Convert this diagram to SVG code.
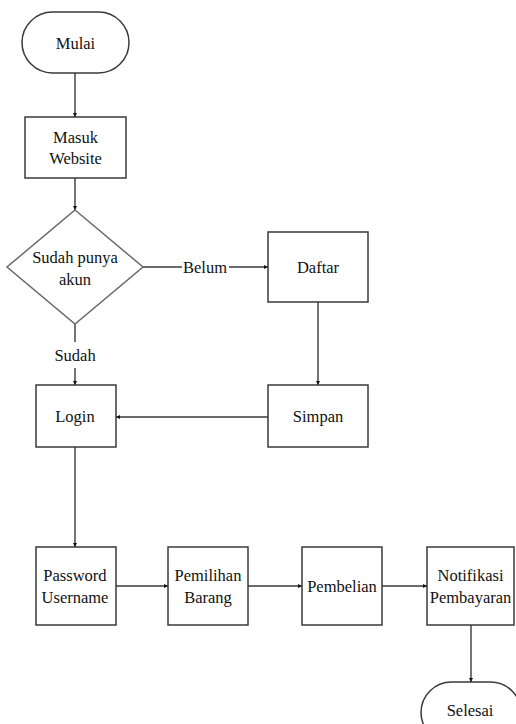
<svg xmlns="http://www.w3.org/2000/svg" width="516" height="724" viewBox="0 0 516 724">
  <style>
    .shape { fill: #ffffff; stroke: #3a3a3a; stroke-width: 1.5; }
    .dec { fill: #ffffff; stroke: #6a6a6a; stroke-width: 1.5; }
    .lbl { font-size: 16.5px; fill: #111111; text-anchor: middle; dominant-baseline: central; }
    .edge { fill: none; stroke: #3a3a3a; stroke-width: 1.4; marker-end: url(#head); }
    .plain { fill: none; stroke: #3a3a3a; stroke-width: 1.4; }
  </style>
  <defs>
    <marker id="head" viewBox="0 0 6 6" refX="6" refY="3" markerWidth="4" markerHeight="4" markerUnits="userSpaceOnUse" orient="auto">
      <path d="M0,0 L6,3 L0,6 Z" fill="#111111"/>
    </marker>
  </defs>
  <rect width="516" height="724" fill="#ffffff"/>

  <g font-family="'Liberation Serif', 'Noto Serif', FreeSerif, 'Nimbus Roman', 'DejaVu Serif', Times, serif">
  <g id="connectors">
    <line class="edge" x1="75" y1="73" x2="75" y2="117"/>
    <line class="edge" x1="75" y1="178" x2="75" y2="210"/>
    <line class="plain" x1="143" y1="267" x2="182" y2="267"/>
    <line class="edge" x1="229" y1="267" x2="268" y2="267"/>
    <line class="plain" x1="75" y1="324" x2="75" y2="342"/>
    <line class="edge" x1="75" y1="368" x2="75" y2="385"/>
    <line class="edge" x1="318" y1="302" x2="318" y2="385"/>
    <line class="edge" x1="268" y1="417" x2="116" y2="417"/>
    <line class="edge" x1="75" y1="447" x2="75" y2="547"/>
    <line class="edge" x1="116" y1="586" x2="168" y2="586"/>
    <line class="edge" x1="248" y1="586" x2="302" y2="586"/>
    <line class="edge" x1="382" y1="586" x2="427" y2="586"/>
    <line class="edge" x1="471" y1="625" x2="471" y2="682"/>
    <text class="lbl" x="205" y="267">Belum</text>
    <text class="lbl" x="75" y="355">Sudah</text>
  </g>

  <g id="mulai">
    <rect class="shape" x="22" y="12" width="107" height="61" rx="30.5" ry="30.5"/>
    <text class="lbl" x="75.5" y="43">Mulai</text>
  </g>

  <g id="masuk-website">
    <rect class="shape" x="25" y="117" width="101" height="61"/>
    <text class="lbl" x="75.5" y="137">Masuk</text>
    <text class="lbl" x="75.5" y="158">Website</text>
  </g>

  <g id="sudah-punya-akun">
    <polygon class="dec" points="75,210 143,267 75,324 7,267"/>
    <text class="lbl" x="75" y="257">Sudah punya</text>
    <text class="lbl" x="75" y="279">akun</text>
  </g>

  <g id="daftar">
    <rect class="shape" x="268" y="232" width="100" height="70"/>
    <text class="lbl" x="318" y="267">Daftar</text>
  </g>

  <g id="simpan">
    <rect class="shape" x="268" y="385" width="100" height="62"/>
    <text class="lbl" x="318" y="416">Simpan</text>
  </g>

  <g id="login">
    <rect class="shape" x="36" y="385" width="80" height="62"/>
    <text class="lbl" x="75" y="416">Login</text>
  </g>

  <g id="password-username">
    <rect class="shape" x="36" y="547" width="80" height="78"/>
    <text class="lbl" x="75" y="575">Password</text>
    <text class="lbl" x="75" y="597">Username</text>
  </g>

  <g id="pemilihan-barang">
    <rect class="shape" x="168" y="547" width="80" height="78"/>
    <text class="lbl" x="208" y="575">Pemilihan</text>
    <text class="lbl" x="208" y="597">Barang</text>
  </g>

  <g id="pembelian">
    <rect class="shape" x="302" y="547" width="80" height="78"/>
    <text class="lbl" x="342" y="586">Pembelian</text>
  </g>

  <g id="notifikasi-pembayaran">
    <rect class="shape" x="427" y="547" width="87" height="78"/>
    <text class="lbl" x="470.5" y="575">Notifikasi</text>
    <text class="lbl" x="470.5" y="597">Pembayaran</text>
  </g>

  <g id="selesai">
    <rect class="shape" x="421" y="682" width="100" height="61" rx="30.5" ry="30.5"/>
    <text class="lbl" x="470" y="710">Selesai</text>
  </g>
  </g>
</svg>
